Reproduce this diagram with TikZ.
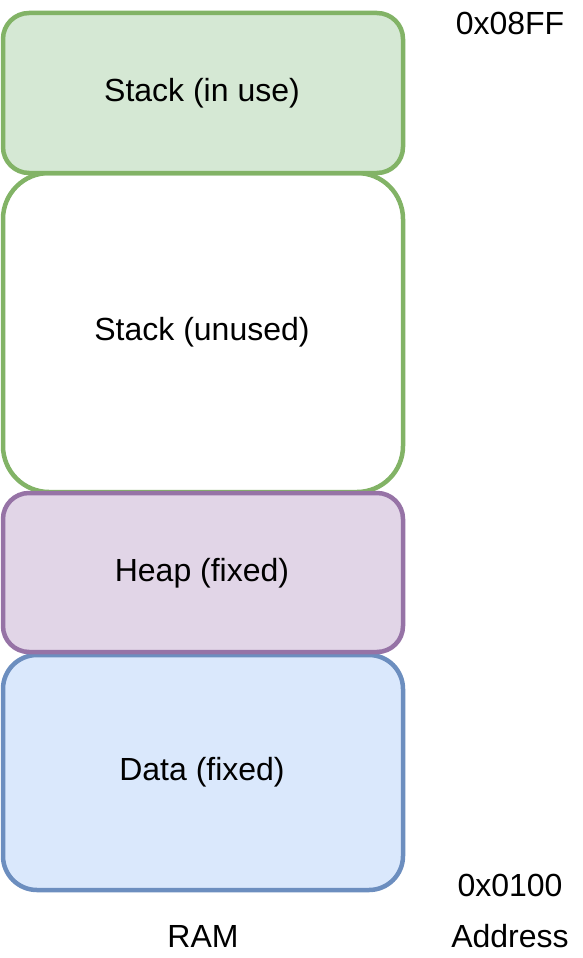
\documentclass[tikz,border=0pt]{standalone}
\usepackage{fontspec}
\setmainfont{Liberation Sans}
\definecolor{gstroke}{HTML}{82B366}
\definecolor{gfill}{HTML}{D5E8D4}
\definecolor{pstroke}{HTML}{9673A6}
\definecolor{pfill}{HTML}{E1D5E7}
\definecolor{bstroke}{HTML}{6C8EBF}
\definecolor{bfill}{HTML}{DAE8FC}
\tikzset{
  membox/.style={line width=4.5pt},
  lbl/.style={font=\fontsize{32}{36}\selectfont, inner sep=0pt, anchor=center}
}
\begin{document}
\begin{tikzpicture}[x=1pt,y=-1pt]
\useasboundingbox (0,0) rectangle (582,958);
\draw[membox, draw=gstroke, fill=white, rounded corners=46pt] (3,173) rectangle (403,492);
\draw[membox, draw=gstroke, fill=gfill, rounded corners=26pt] (3,13) rectangle (403,173);
\draw[membox, draw=bstroke, fill=bfill, rounded corners=34pt] (3,655) rectangle (403,890);
\draw[membox, draw=pstroke, fill=pfill, rounded corners=26pt] (3,493) rectangle (403,652);
\node[lbl] (inuse) at (202,93.5) {Stack (in use)};
\node[lbl] (unused) at (202,332.5) {Stack (unused)};
\node[lbl] (heap) at (202,573.5) {Heap (fixed)};
\node[lbl] (data) at (202,772.5) {Data (fixed)};
\node[lbl] (top) at (510,23.5) {0x08FF};
\node[lbl] (bot) at (510,885.5) {0x0100};
\node[lbl] (ram) at (203,936.5) {RAM};
\node[lbl] (addr) at (510,936.5) {Address};
\end{tikzpicture}
\end{document}
